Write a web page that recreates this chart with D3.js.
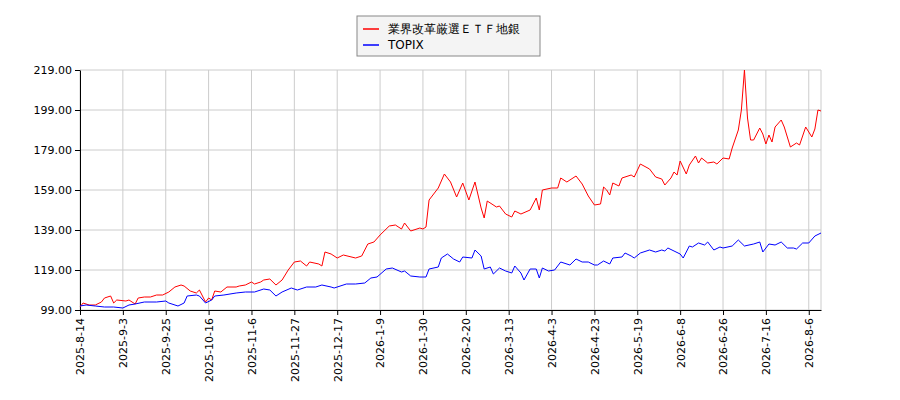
<!DOCTYPE html>
<html><head><meta charset="utf-8">
<script src="https://cdn.jsdelivr.net/npm/d3@7"></script>
<style>body{margin:0;background:#fff}text{font-family:"DejaVu Sans",sans-serif}</style>
</head><body><svg id="c" width="900" height="400"></svg>
<script>
const seriesNames = ["業界改革厳選ＥＴＦ地銀", "TOPIX"];
const seriesColors = ["#ff0000", "#0000ff"];
const tickLabels = ["2025-8-14","2025-9-3","2025-9-25","2025-10-16","2025-11-6","2025-11-27","2025-12-17","2026-1-9","2026-1-30","2026-2-20","2026-3-13","2026-4-3","2026-4-23","2026-5-19","2026-6-8","2026-6-26","2026-7-16","2026-8-6"];
const tickStep = 14;
const nDays = 243;
const yTicks = [99,119,139,159,179,199,219];
// [trading day index, value]
const etf = [[0,100.5],[1,102.5],[3,101.5],[5,101.5],[7,103],[8,105],[10,106],[11,102.5],[12,104],[15,103.5],[16,104],[18,102],[19,105],[21,105.5],[23,105.5],[25,106.5],[27,106.5],[29,108],[31,110.5],[33,111.5],[34,111],[36,108.5],[38,107.5],[39,109],[41,103],[42,105],[43,104],[44,108.5],[46,108],[48,110.5],[51,110.5],[52,111],[54,111.5],[56,113],[57,112],[59,113],[60,114],[62,114.5],[64,111.5],[66,114],[68,119],[70,123],[72,123.5],[74,121],[75,123],[78,122],[79,121],[80,128],[82,127],[84,125],[86,126.5],[90,125],[92,126],[94,132],[96,133],[98,136.5],[101,141],[103,141.5],[105,139.5],[106,142.5],[108,138.5],[111,140],[112,139.5],[113,140.5],[114,154],[117,160],[119,167],[121,163],[123,155.5],[125,162.5],[127,154],[129,163],[131,150],[132,145],[133,153.5],[136,150.5],[137,151],[139,147],[141,145.5],[142,148.5],[144,147],[147,149],[149,155],[150,149],[151,159],[154,160],[156,160],[157,165],[159,163],[162,166],[164,162],[166,156],[168,151.5],[170,152],[171,160.5],[172,159],[173,156.5],[174,162.5],[176,161],[177,165],[180,166.5],[181,165.5],[183,172],[186,169.5],[188,165.5],[190,164.5],[191,161.5],[193,165],[194,168],[195,166.5],[196,173.5],[198,167],[199,171.5],[201,176],[202,172.5],[203,175],[205,172.5],[207,173],[208,172],[210,175],[212,174.5],[213,180],[215,189],[216,199],[217,219],[218,195],[219,184],[220,184],[221,187],[222,190],[223,187],[224,182],[225,186.5],[226,183],[227,190.5],[229,194],[230,190.5],[232,180.5],[234,182.5],[235,181.5],[237,190.5],[239,185.5],[240,189.5],[241,199],[242,198.5]];
const topix = [[0,101],[2,101.5],[5,101],[8,100.5],[11,100.5],[14,100],[16,101.5],[18,102],[21,103],[25,103],[28,103.5],[29,102.5],[32,101],[34,102.5],[35,106],[38,106.5],[39,106],[41,102.5],[43,104],[44,106],[47,106.5],[51,107.5],[54,108],[57,108],[60,109.5],[62,109],[64,106],[66,108],[69,110],[71,109],[74,110.5],[77,110.5],[79,111.5],[82,110.5],[83,110],[87,112],[90,112],[93,112.5],[95,115],[97,115.5],[100,119.5],[102,120],[105,118],[106,118.5],[108,116],[111,115.5],[113,115.5],[114,119.5],[117,120.5],[118,125],[120,127],[122,124.5],[124,123],[125,125.5],[128,125],[129,129],[131,126],[132,119.5],[134,120.5],[135,117],[137,120],[139,118.5],[141,117.5],[142,121],[144,117.5],[145,114],[147,119.5],[149,119.5],[150,115],[151,120],[153,118.5],[155,119],[157,123],[160,121.5],[162,124.5],[164,123],[166,123],[168,121.5],[169,121.5],[171,123.5],[173,122],[174,125],[177,125.5],[178,127.5],[180,126],[181,125],[183,127.5],[186,129],[188,128],[190,129],[191,128.5],[192,130],[194,128.5],[196,127],[197,125],[199,131],[200,130.5],[202,132.5],[204,131.5],[205,133],[207,129],[209,130.5],[210,130],[213,131],[215,134],[217,131],[220,132],[222,133],[223,128],[225,132],[227,131.5],[229,133],[231,130],[233,130],[234,129.5],[236,132.5],[238,132.5],[240,136],[242,137.5]];

const svg = d3.select("#c");
const m = {l:80, r:821, t:70, b:310};
const x = d3.scaleLinear().domain([0, nDays-1]).range([m.l, m.r]);
const y = d3.scaleLinear().domain([99, 219]).range([m.b, m.t]);
const tickIdx = tickLabels.map((_, i) => i * tickStep);

const g = svg.append("g");
g.selectAll(".gx").data(tickIdx).join("line")
  .attr("x1", d => x(d)).attr("x2", d => x(d)).attr("y1", m.t).attr("y2", m.b)
  .attr("stroke", "#cccccc");
g.append("line").attr("x1", m.r).attr("x2", m.r).attr("y1", m.t).attr("y2", m.b).attr("stroke", "#cccccc");
g.selectAll(".gy").data(yTicks).join("line")
  .attr("x1", m.l).attr("x2", m.r).attr("y1", d => y(d)).attr("y2", d => y(d))
  .attr("stroke", "#cccccc");

const yAxis = svg.append("g").attr("transform", `translate(${m.l},0)`)
  .call(d3.axisLeft(y).tickValues(yTicks).tickFormat(d3.format(".2f")).tickSize(5).tickSizeOuter(0));
yAxis.selectAll("text").attr("font-size", 11).attr("fill", "#000");
const xAxis = svg.append("g").attr("transform", `translate(0,${m.b})`)
  .call(d3.axisBottom(x).tickValues(tickIdx).tickFormat((d, i) => tickLabels[i]).tickSize(5).tickSizeOuter(0));
xAxis.selectAll("text").attr("font-size", 11).attr("fill", "#000")
  .attr("transform", "rotate(-90)").attr("text-anchor", "end")
  .attr("x", -8).attr("y", 0).attr("dy", "0.35em");
svg.selectAll(".domain").attr("stroke", "#000");

const line = d3.line().x(d => x(d[0])).y(d => y(d[1]));
[etf, topix].forEach((s, i) => {
  svg.append("path").datum(s).attr("d", line).attr("fill", "none")
    .attr("stroke", seriesColors[i]).attr("stroke-width", 1);
});

const lg = svg.append("g").attr("transform", "translate(357,16)");
lg.append("rect").attr("width", 183).attr("height", 40).attr("fill", "#f4f4f4").attr("stroke", "#888");
seriesNames.forEach((n, i) => {
  lg.append("line").attr("x1", 6).attr("x2", 22).attr("y1", 13 + i*16).attr("y2", 13 + i*16)
    .attr("stroke", seriesColors[i]).attr("stroke-width", 1.5);
  lg.append("text").attr("x", 31).attr("y", 13 + i*16).attr("dy", "0.35em")
    .attr("font-size", 12).text(n);
});
</script></body></html>
